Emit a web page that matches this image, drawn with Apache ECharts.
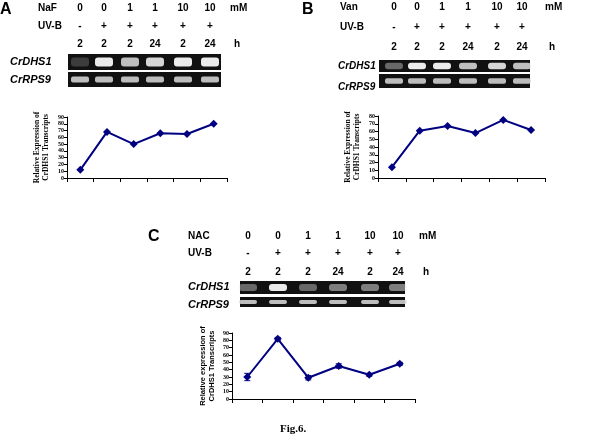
<!DOCTYPE html>
<html>
<head>
<meta charset="utf-8">
<script src="https://cdn.jsdelivr.net/npm/echarts@6/dist/echarts.min.js"></script>
<style>html,body{margin:0;padding:0;background:#fff}#fig{width:600px;height:446px}</style>
</head>
<body>
<div id="fig"></div>
<script>
var myChart = echarts.init(document.getElementById('fig'));

// 数据
var cats = ['1','2','3','4','5','6'];
var dataA = [12, 68, 50, 66, 65, 80];
var dataB = [14, 61, 67, 58, 75, 62];
var dataC = [30, 82, 29, 45, 33, 48];
var errC  = [5, 2, 3, 3, 2, 2];

// 面板文字 / 胶图
var panels = [
  {tag:'A', tagX:0, tagY:2, drug:'NaF', drugX:50, lanes:[80,104,130,155,183,210], unitX:238,
   rowY:[8,26,44], geneX:10, geneY:[62,80], geneFont:'italic bold 11px Arial', gel:[68,221,54,70,72,87], dhs:[0.2,1,0.8,0.9,1,1]},
  {tag:'B', tagX:302, tagY:2, drug:'Van', drugX:352, lanes:[394,417,442,468,497,522], unitX:553,
   rowY:[7,27,47], geneX:338, geneY:[67,88], geneFont:'italic bold 10px Arial', gel:[379,530,60,72,74,88], dhs:[0.4,1,1,0.8,0.9,0.8]},
  {tag:'C', tagX:148, tagY:229, drug:'NAC', drugX:200, lanes:[248,278,308,338,370,398], unitX:427,
   rowY:[236,253,272], geneX:188, geneY:[287,305], geneFont:'italic bold 11px Arial', gel:[240,405,281,294,297,307], dhs:[0.4,1,0.4,0.5,0.5,0.5]}
];
var conc = ['0','0','1','1','10','10'];
var uvb = ['-','+','+','+','+','+'];
var hrs = ['2','2','2','24','2','24'];
var txt = function(x,y,s,o){
  return {type:'text', left:x, top:y, style:Object.assign({text:s, fill:'#000', font:'bold 10px Arial'}, o||{})};
};
var graphics = [];
panels.forEach(function(p){
  graphics.push(txt(p.tagX,p.tagY,p.tag,{font:'bold 16px Arial'}));
  graphics.push(txt(p.drugX-12,p.rowY[0]-5,p.drug));
  graphics.push(txt(p.drugX-12,p.rowY[1]-5,'UV-B'));
  graphics.push(txt(p.unitX-8,p.rowY[0]-5,'mM'));
  graphics.push(txt(p.unitX-4,p.rowY[2]-5,'h'));
  p.lanes.forEach(function(x,i){
    graphics.push({type:'text', x:x, y:p.rowY[0], style:{text:conc[i], fill:'#000', font:'bold 10px Arial', align:'center', verticalAlign:'middle'}});
    graphics.push({type:'text', x:x, y:p.rowY[1], style:{text:uvb[i], fill:'#000', font:'bold 10px Arial', align:'center', verticalAlign:'middle'}});
    graphics.push({type:'text', x:x, y:p.rowY[2], style:{text:hrs[i], fill:'#000', font:'bold 10px Arial', align:'center', verticalAlign:'middle'}});
  });
  graphics.push(txt(p.geneX,p.geneY[0]-6,'CrDHS1',{font:p.geneFont}));
  graphics.push(txt(p.geneX,p.geneY[1]-6,'CrRPS9',{font:p.geneFont}));
  var g = p.gel;
  graphics.push({type:'rect', shape:{x:g[0],y:g[2],width:g[1]-g[0],height:g[3]-g[2]}, style:{fill:'#111'}});
  graphics.push({type:'rect', shape:{x:g[0],y:g[4],width:g[1]-g[0],height:g[5]-g[4]}, style:{fill:'#111'}});
  p.lanes.forEach(function(x,i){
    var h1 = (g[3]-g[2])*0.55;
    graphics.push({type:'rect', shape:{x:x-9,y:(g[2]+g[3])/2-h1/2,width:18,height:h1,r:3},
      style:{fill:'rgba(235,235,235,'+p.dhs[i]+')'}});
    var h2 = (g[5]-g[4])*0.4;
    graphics.push({type:'rect', shape:{x:x-9,y:(g[4]+g[5])/2-h2/2,width:18,height:h2,r:2},
      style:{fill:'rgba(220,220,220,0.85)'}});
  });
});
graphics.push(txt(280,424,'Fig.6.',{font:'bold 11px "Liberation Serif"'}));

var yLab = {fontFamily:'Liberation Serif', fontWeight:'bold', fontSize:6, lineHeight:6, color:'#000', margin:3,
  showMinLabel:true, showMaxLabel:true, hideOverlap:false};
function yAxis(idx, max, name, font){
  return {gridIndex:idx, type:'value', min:0, max:max, interval:10,
    name:name, nameLocation:'middle', nameGap:16, nameRotate:90,
    nameTextStyle:{fontFamily:font, fontWeight:'bold', fontSize:7.5, lineHeight:9, color:'#000'},
    axisLine:{show:true, lineStyle:{color:'#000'}}, axisTick:{show:true, length:3, lineStyle:{color:'#000'}},
    splitLine:{show:false}, axisLabel:yLab};
}
function xAxis(idx){
  return {gridIndex:idx, type:'category', data:cats, boundaryGap:true,
    axisLine:{lineStyle:{color:'#000'}}, axisTick:{show:true, length:4, lineStyle:{color:'#000'}},
    axisLabel:{show:false}};
}
function line(idx, data){
  return {type:'line', xAxisIndex:idx, yAxisIndex:idx, data:data, symbol:'diamond', symbolSize:8,
    lineStyle:{color:'#000080', width:2}, itemStyle:{color:'#000080'}};
}

var option = {
  animation:false,
  graphic: graphics,
  grid: [
    {left:67, top:117, width:160, height:61},
    {left:378, top:116, width:167, height:62},
    {left:232, top:333, width:183, height:66}
  ],
  xAxis: [xAxis(0), xAxis(1), xAxis(2)],
  yAxis: [
    yAxis(0, 90, 'Relative Expression of\nCrDHS1 Transcripts', 'Liberation Serif'),
    yAxis(1, 80, 'Relative Expression of\nCrDHS1 Transcripts', 'Liberation Serif'),
    yAxis(2, 90, 'Relative expression of\nCrDHS1 Transcripts', 'Arial')
  ],
  series: [
    line(0, dataA),
    line(1, dataB),
    line(2, dataC),
    {
      type:'custom', xAxisIndex:2, yAxisIndex:2,
      data: dataC.map(function(v,i){ return [i, v-errC[i], v+errC[i]]; }),
      renderItem: function(params, api){
        var lo = api.coord([api.value(0), api.value(1)]);
        var hi = api.coord([api.value(0), api.value(2)]);
        var st = {stroke:'#000080', lineWidth:1};
        return {type:'group', children:[
          {type:'line', shape:{x1:lo[0],y1:lo[1],x2:hi[0],y2:hi[1]}, style:st},
          {type:'line', shape:{x1:lo[0]-3,y1:lo[1],x2:lo[0]+3,y2:lo[1]}, style:st},
          {type:'line', shape:{x1:hi[0]-3,y1:hi[1],x2:hi[0]+3,y2:hi[1]}, style:st}
        ]};
      }
    }
  ]
};
myChart.setOption(option);
</script>
</body>
</html>
